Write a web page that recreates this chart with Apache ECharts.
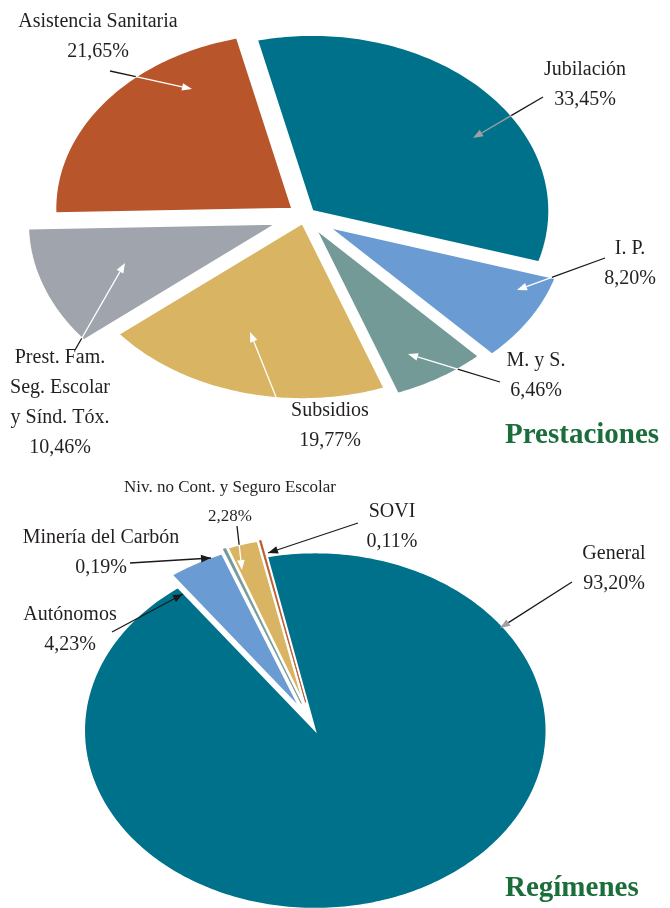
<!DOCTYPE html>
<html>
<head>
<meta charset="utf-8">
<script src="https://cdn.jsdelivr.net/npm/echarts@6/dist/echarts.min.js"></script>
<style>
html, body { margin: 0; background: #fff; }
#c_chart { width: 670px; height: 908px; }
</style>
</head>
<body>
<div id="c_chart"></div>
<script>
// Prestaciones (upper pie), clockwise from Jubilación
const prestNames = ['Jubilación', 'I. P.', 'M. y S.', 'Subsidios', 'Prest. Fam.\nSeg. Escolar\ny Sínd. Tóx.', 'Asistencia Sanitaria'];
const prestValues = [33.45, 8.20, 6.46, 19.77, 10.46, 21.65];
// Regímenes (lower pie), clockwise from General
const regNames = ['General', 'Autónomos', 'Minería del Carbón', 'Niv. no Cont. y Seguro Escolar', 'SOVI'];
const regValues = [93.20, 4.23, 0.19, 2.28, 0.11];
const titles = ['Prestaciones', 'Regímenes'];

var dm = document.getElementById('c_chart');
var ch = echarts.init(dm);

var TEAL = '#00718b', RUST = '#b9552a', BLUE = '#6a9bd3', SAGE = '#749a97', GOLD = '#d9b463', GREY = '#9fa4ad';

// layout of the two pies (ellipses, exploded slices)
var pies = [
    { names: prestNames, values: prestValues, colors: [TEAL, BLUE, SAGE, GOLD, GREY, RUST],
      cx: 305, cy: 216, rx: 237, ry: 176, start: -13.5,
      explode: [10, 28, 20, 10, 30, 16], scale: [1, 1, 1, 1, 1.05, 1], border: 2 },
    { names: regNames, values: regValues, colors: [TEAL, BLUE, SAGE, GOLD, RUST],
      cx: 312, cy: 725, rx: 231, ry: 178, start: -12,
      explode: [8, 25, 30, 30, 30], scale: [1, 0.93, 0.93, 0.93, 0.93], border: 1.5 }
];

// label position, arrow from -> to, colour of the arrow inside the slice
var labelLayout = [
    [
        { x: 585, y: 70, from: [543, 97], to: [473, 138], inner: '#a0a0a0' },
        { x: 630, y: 249, from: [605, 258], to: [517, 290], inner: '#fff' },
        { x: 536, y: 361, from: [500, 382], to: [408, 354], inner: '#fff' },
        { x: 330, y: 411, from: [276, 397], to: [250, 332], inner: '#fff' },
        { x: 60, y: 358, from: [75, 350], to: [125, 263], inner: '#fff' },
        { x: 98, y: 22, from: [110, 71], to: [192, 89], inner: '#fff' }
    ],
    [
        { x: 614, y: 554, from: [572, 582], to: [500, 628], inner: '#a0a0a0' },
        { x: 70, y: 615, from: [112, 632], to: [183, 594], inner: '#fff' },
        { x: 101, y: 538, from: [130, 563], to: [211, 558], inner: '#000' },
        { x: 230, y: 488, from: [237, 526], to: [242, 570], inner: '#fff', size: 17, lh: 29 },
        { x: 392, y: 512, from: [358, 523], to: [268, 553], inner: '#000' }
    ]
];
var titlePos = [[505, 436], [505, 889]];

function geom(p, i) {
    var tot = p.values.reduce((a, b) => a + b, 0);
    var a0 = p.start;
    for (var k = 0; k < i; k++) a0 += p.values[k] / tot * 360;
    var a1 = a0 + p.values[i] / tot * 360;
    var mid = (a0 + a1) / 2 * Math.PI / 180;
    var d = p.explode[i];
    return {
        a0: a0, a1: a1,
        ox: p.cx + d * Math.sin(mid),
        oy: p.cy - d * Math.cos(mid) * p.ry / p.rx,
        rx: p.rx * p.scale[i], ry: p.ry * p.scale[i]
    };
}

function slicePoints(g) {
    var pts = [[g.ox, g.oy]];
    var n = Math.max(2, Math.ceil(g.a1 - g.a0));
    for (var j = 0; j <= n; j++) {
        var a = (g.a0 + (g.a1 - g.a0) * j / n) * Math.PI / 180;
        pts.push([g.ox + g.rx * Math.sin(a), g.oy - g.ry * Math.cos(a)]);
    }
    return pts;
}

function inside(g, x, y) {
    var dx = (x - g.ox) / g.rx, dy = (y - g.oy) / g.ry;
    if (dx * dx + dy * dy > 1) return false;
    var ang = Math.atan2(dx, -dy) * 180 / Math.PI;
    while (ang < g.a0) ang += 360;
    return ang <= g.a1;
}

function fmt(v) {
    return v.toFixed(2).replace('.', ',') + '%';
}

var series = pies.map(function (p) {
    return {
        type: 'custom',
        coordinateSystem: 'none',
        silent: true,
        animation: false,
        data: p.values,
        renderItem: function (params) {
            var i = params.dataIndex;
            var g = geom(p, i);
            var thin = g.a1 - g.a0 < 2;
            return {
                type: 'polygon',
                z2: thin ? 10 : 1,
                shape: { points: slicePoints(g) },
                style: {
                    fill: p.colors[i],
                    stroke: thin ? p.colors[i] : '#fff',
                    lineWidth: thin ? 0.8 : p.border
                }
            };
        }
    };
});

var elements = [];
pies.forEach(function (p, pi) {
    p.names.forEach(function (nm, i) {
        var lb = labelLayout[pi][i];
        var g = geom(p, i);
        var size = lb.size || 20, lh = lb.lh || 30;
        elements.push({
            type: 'text', z: 100,
            style: {
                text: nm + '\n' + fmt(p.values[i]),
                x: lb.x, y: lb.y - lh / 2,
                align: 'center', verticalAlign: 'top',
                font: size + 'px "Liberation Serif", serif',
                lineHeight: lh, fill: '#231f20'
            }
        });
        // split point where the arrow enters the slice
        var x0 = lb.from[0], y0 = lb.from[1], x1 = lb.to[0], y1 = lb.to[1];
        var t = 1, endIn = inside(g, x1, y1);
        if (endIn) {
            for (var s = 0; s <= 200; s++) {
                var tt = s / 200;
                if (inside(g, x0 + (x1 - x0) * tt, y0 + (y1 - y0) * tt)) { t = tt; break; }
            }
        }
        var xm = x0 + (x1 - x0) * t, ym = y0 + (y1 - y0) * t;
        elements.push({ type: 'line', z: 100, shape: { x1: x0, y1: y0, x2: xm, y2: ym },
            style: { stroke: '#1a1a1a', lineWidth: 1.3 } });
        var headCol = endIn ? lb.inner : '#1a1a1a';
        var len = Math.hypot(x1 - x0, y1 - y0), ux = (x1 - x0) / len, uy = (y1 - y0) / len;
        var bx = x1 - ux * 10, by = y1 - uy * 10;
        if (endIn && t < 1) {
            elements.push({ type: 'line', z: 100, shape: { x1: xm, y1: ym, x2: bx, y2: by },
                style: { stroke: lb.inner, lineWidth: 1.3 } });
        }
        elements.push({ type: 'polygon', z: 100,
            shape: { points: [[x1, y1], [bx - uy * 3.8, by + ux * 3.8], [bx + uy * 3.8, by - ux * 3.8]] },
            style: { fill: headCol } });
    });
});

titles.forEach(function (tl, k) {
    elements.push({
        type: 'text', z: 100,
        style: {
            text: tl, x: titlePos[k][0], y: titlePos[k][1],
            align: 'left', verticalAlign: 'middle',
            font: 'bold 29px "Liberation Serif", serif', fill: '#1b6e3b'
        }
    });
});

var option = {
    animation: false,
    series: series,
    graphic: { elements: elements }
};

ch.setOption(option);
window.onresize = function () {
    ch.resize();
};
</script>
</body>
</html>
